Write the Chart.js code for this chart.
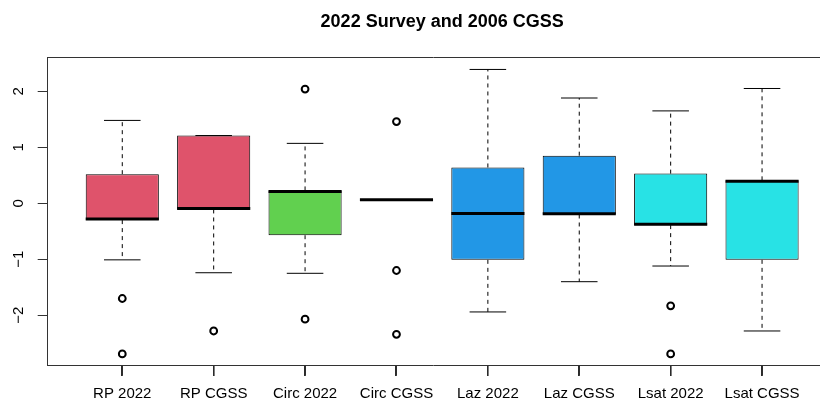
<!DOCTYPE html>
<html>
<head>
<meta charset="utf-8">
<script src="https://cdn.jsdelivr.net/npm/chart.js@4/dist/chart.umd.min.js"></script>
<style>
  html, body { margin: 0; padding: 0; background: #ffffff; }
  #wrap { width: 825px; height: 401px; }
</style>
</head>
<body>
<div id="wrap"><canvas id="chart" width="825" height="401"></canvas></div>
<script>
// Groups, in plotting order
const categories = ['RP 2022', 'RP CGSS', 'Circ 2022', 'Circ CGSS', 'Laz 2022', 'Laz CGSS', 'Lsat 2022', 'Lsat CGSS'];

// Five-number summaries per group
const whiskerLow  = [-1.01, -1.24, -1.25, 0.065, -1.94, -1.40, -1.12, -2.28];
const lowerQuart  = [-0.30, -0.11, -0.57, 0.065, -1.01, -0.20, -0.39, -1.01];
const medians     = [-0.28, -0.095, 0.21, 0.065, -0.18, -0.185, -0.373, 0.395];
const upperQuart  = [ 0.52,  1.21,  0.23, 0.065,  0.64,  0.85,  0.53,  0.41];
const whiskerHigh = [ 1.48,  1.21,  1.07, 0.065,  2.39,  1.88,  1.65,  2.05];

// Points beyond the whiskers
const outliers = [[-1.70, -2.69], [-2.28], [2.04, -2.07], [1.46, -1.20, -2.34], [], [], [-1.83, -2.69], []];

const boxColors = ['#DF536B', '#DF536B', '#61D04F', '#61D04F', '#2297E6', '#2297E6', '#28E2E5', '#28E2E5'];
const yTicks = [-2, -1, 0, 1, 2];
const titleText = '2022 Survey and 2006 CGSS';

const FONT = '"Liberation Sans", Arial, Helvetica, sans-serif';
const AXIS = '#333333';
const BOX_WIDTH = 0.8;   // box width in group units
const CAP_WIDTH = 0.4;   // whisker staple width in group units
const TICK_LEN = 10;     // axis tick length in px
const X_MIN = 0.184, X_MAX = 8.623, X_FULL_MAX = 8.816;
const Y_MIN = -2.9, Y_MAX = 2.607;

const boxData = categories.map((c, i) => ({ x: i + 1, y: [lowerQuart[i], upperQuart[i]] }));
const outlierData = [];
outliers.forEach((vals, i) => vals.forEach(v => outlierData.push({ x: i + 1, y: v })));

// Whiskers and staples drawn under the boxes, medians on top, then group ticks and title
const boxParts = {
  id: 'boxParts',
  beforeDatasetsDraw(chart) {
    const { ctx, scales: { x, y } } = chart;
    ctx.save();
    ctx.strokeStyle = '#000';
    ctx.lineWidth = 1;
    categories.forEach((c, i) => {
      const cx = x.getPixelForValue(i + 1);
      const half = x.getPixelForValue(i + 1 + CAP_WIDTH / 2) - cx;
      ctx.setLineDash([4, 4]);
      ctx.beginPath();
      ctx.moveTo(cx, y.getPixelForValue(upperQuart[i]));
      ctx.lineTo(cx, y.getPixelForValue(whiskerHigh[i]));
      ctx.moveTo(cx, y.getPixelForValue(lowerQuart[i]));
      ctx.lineTo(cx, y.getPixelForValue(whiskerLow[i]));
      ctx.stroke();
      ctx.setLineDash([]);
      ctx.beginPath();
      const yh = y.getPixelForValue(whiskerHigh[i]);
      const yl = y.getPixelForValue(whiskerLow[i]);
      ctx.moveTo(cx - half, yh); ctx.lineTo(cx + half, yh);
      ctx.moveTo(cx - half, yl); ctx.lineTo(cx + half, yl);
      ctx.stroke();
    });
    ctx.restore();
  },
  afterDatasetsDraw(chart) {
    const { ctx, scales: { x, y } } = chart;
    ctx.save();
    ctx.strokeStyle = '#000';
    ctx.lineWidth = 3;
    ctx.lineCap = 'butt';
    categories.forEach((c, i) => {
      const cx = x.getPixelForValue(i + 1);
      const half = x.getPixelForValue(i + 1 + BOX_WIDTH / 2) - cx;
      const my = y.getPixelForValue(medians[i]);
      ctx.beginPath();
      ctx.moveTo(cx - half, my);
      ctx.lineTo(cx + half, my);
      ctx.stroke();
    });
    ctx.restore();
  },
  afterDraw(chart) {
    const ctx = chart.ctx;
    const xs = chart.scales.x;
    ctx.save();
    ctx.globalAlpha = 1;
    ctx.globalCompositeOperation = 'source-over';
    ctx.fillStyle = '#2a2a2a';
    const base = Math.round(chart.chartArea.bottom);
    categories.forEach((c, i) => {
      const px = Math.round(xs.getPixelForValue(i + 1));
      ctx.fillRect(px - 1, base, 1.6, TICK_LEN);
    });
    ctx.fillStyle = '#000';
    ctx.font = 'bold 18px ' + FONT;
    ctx.textAlign = 'center';
    ctx.textBaseline = 'middle';
    const cx = (chart.chartArea.left + xs.getPixelForValue(X_FULL_MAX)) / 2;
    ctx.fillText(titleText, cx, 22);
    ctx.restore();
  }
};

new Chart(document.getElementById('chart'), {
  type: 'bar',
  data: {
    datasets: [
      {
        type: 'bar',
        data: boxData,
        backgroundColor: boxColors,
        borderColor: '#000',
        borderWidth: 1,
        borderSkipped: false,
        categoryPercentage: 1,
        barPercentage: BOX_WIDTH,
        order: 2
      },
      {
        type: 'scatter',
        data: outlierData,
        pointStyle: 'circle',
        pointRadius: 3.4,
        pointBorderWidth: 2,
        pointBorderColor: '#000',
        pointBackgroundColor: 'rgba(0,0,0,0)',
        order: 1
      }
    ]
  },
  options: {
    responsive: false,
    animation: false,
    devicePixelRatio: 1,
    layout: { padding: { top: 57.3, left: 0, right: 0, bottom: 0 } },
    plugins: { legend: { display: false }, tooltip: { enabled: false }, title: { display: false } },
    scales: {
      x: {
        type: 'linear',
        position: 'bottom',
        min: X_MIN,
        max: X_MAX,
        offset: false,
        afterBuildTicks(scale) { scale.ticks = categories.map((c, i) => ({ value: i + 1 })); },
        afterFit(scale) { scale.height = 35.3; },
        grid: { offset: false, drawOnChartArea: false, drawTicks: true, tickLength: TICK_LEN, tickColor: AXIS, tickWidth: 1 },
        border: { display: true, color: AXIS, width: 1 },
        ticks: {
          autoSkip: false,
          maxRotation: 0,
          minRotation: 0,
          padding: 9.3,
          color: '#000',
          font: { family: FONT, size: 15 },
          callback: (v) => categories[Math.round(v) - 1] || ''
        }
      },
      xTop: {
        type: 'linear',
        position: 'top',
        min: X_MIN,
        max: X_MAX,
        offset: false,
        afterFit(scale) { scale.height = 0; },
        grid: { offset: false, display: false, drawTicks: false },
        border: { display: true, color: AXIS, width: 1 },
        ticks: { display: false }
      },
      y: {
        type: 'linear',
        position: 'left',
        min: Y_MIN,
        max: Y_MAX,
        afterBuildTicks(scale) { scale.ticks = yTicks.map(v => ({ value: v })); },
        afterFit(scale) { scale.width = 47.7; },
        grid: { drawOnChartArea: false, drawTicks: true, tickLength: TICK_LEN, tickColor: AXIS, tickWidth: 1 },
        border: { display: true, color: AXIS, width: 1 },
        ticks: {
          minRotation: 90,
          maxRotation: 90,
          crossAlign: 'center',
          padding: 10,
          color: '#000',
          font: { family: FONT, size: 15 },
          callback: (v) => String(v).replace('-', '\u2212')
        }
      }
    }
  },
  plugins: [boxParts]
});
</script>
</body>
</html>
